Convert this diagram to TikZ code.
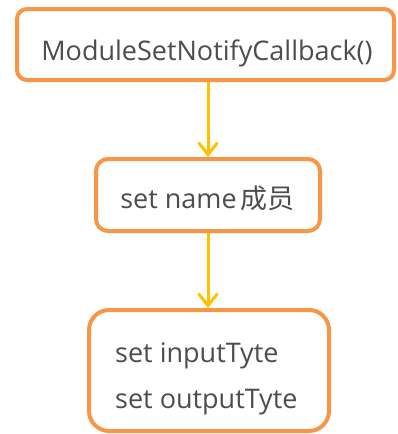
\documentclass[tikz,border=0pt]{standalone}
\usepackage{fontspec}
\setmainfont{Open Sans}
\newfontfamily\cjk{Noto Sans CJK SC}
\usetikzlibrary{arrows.meta}
\definecolor{boxorange}{HTML}{F79646}
\definecolor{arrowyellow}{HTML}{FFC000}
\definecolor{txtgray}{HTML}{4D4D4D}
\begin{document}
\begin{tikzpicture}[x=1pt,y=-1pt,
  box/.style={draw=boxorange,line width=4pt,fill=white},
  lbl/.style={text=txtgray,inner sep=0pt,font=\fontsize{27}{32}\selectfont},
  flow/.style={draw=arrowyellow,line width=3pt,-{Straight Barb[length=12pt,width=19pt,line width=3pt]}}]
\useasboundingbox (0,0) rectangle (398,434);
\path[box,rounded corners=10pt] (17,9) rectangle (394,80);
\coordinate (b1s) at (208,82);
\coordinate (b1n) at (208,9);
\path[box,rounded corners=12pt] (96,159) rectangle (320,231);
\coordinate (b2n) at (208,157);
\coordinate (b2s) at (208,233);
\path[box,rounded corners=20pt] (89,310) rectangle (329,431);
\coordinate (b3n) at (208,308);
\node[lbl,anchor=base] (t1) at (207,60) {ModuleSetNotifyCallback()};
\node[lbl,anchor=base] (t2) at (207.5,208) {set name\hspace{0.15em}{\cjk 成员}};
\node[lbl,anchor=base west] (t3) at (115,362) {set inputTyte};
\node[lbl,anchor=base west] (t4) at (115,408) {set outputTyte};
\draw[flow] (b1s) -- (b2n);
\draw[flow] (b2s) -- (b3n);
\end{tikzpicture}
\end{document}
